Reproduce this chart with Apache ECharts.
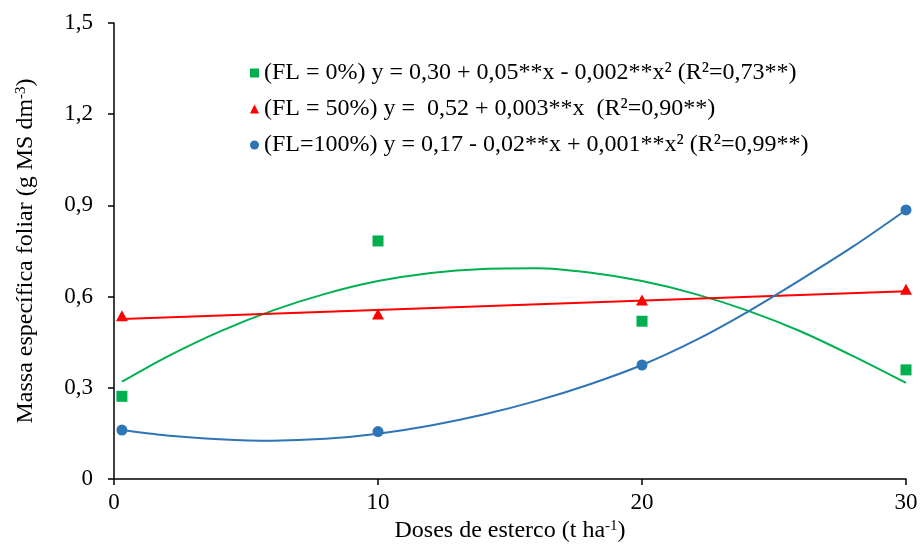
<!DOCTYPE html>
<html>
<head>
<meta charset="utf-8">
<script src="https://cdn.jsdelivr.net/npm/echarts@6/dist/echarts.min.js"></script>
<style>
  html, body { margin: 0; padding: 0; background: #fff; }
  #chart { width: 920px; height: 544px; }
</style>
</head>
<body>
<div id="chart"></div>
<script>
// observed points (x = dose, y = leaf specific mass)
const doses = [0.3, 10, 20, 30]
const fl0 = [0.272, 0.783, 0.519, 0.359]
const fl50 = [0.537, 0.543, 0.589, 0.624]
const fl100 = [0.161, 0.156, 0.375, 0.885]

// trend lines
const curveX = [0.3, 2, 4, 6, 8, 10, 12, 14, 16, 18, 20, 22, 24, 26, 28, 30]
const fit0 = [0.32, 0.402, 0.485, 0.554, 0.609, 0.651, 0.678, 0.691, 0.693, 0.679, 0.651, 0.609, 0.554, 0.486, 0.404, 0.316]
const fit100 = [0.161, 0.143, 0.131, 0.126, 0.132, 0.149, 0.176, 0.212, 0.257, 0.311, 0.375, 0.455, 0.55, 0.655, 0.765, 0.885]
const lineX = [0.3, 30]
const fit50 = [0.526, 0.618]

const names = [
  '(FL = 0%) y = 0,30 + 0,05**x - 0,002**x² (R²=0,73**)',
  '(FL = 50%) y =  0,52 + 0,003**x  (R²=0,90**)',
  '(FL=100%) y = 0,17 - 0,02**x + 0,001**x² (R²=0,99**)'
]
const colors = ['#00B050', '#FF0000', '#2E75B6']

const pair = (xs, ys) => xs.map((x, i) => [x, ys[i]])
const font = 'Liberation Serif'

const chart = echarts.init(document.getElementById('chart'))

chart.setOption({
  animation: false,
  textStyle: { fontFamily: font, color: '#000' },
  grid: { left: 114, right: 14, top: 23, bottom: 65, outerBoundsMode: 'none' },
  legend: {
    orient: 'vertical',
    left: 245,
    top: 56,
    itemGap: 12,
    itemWidth: 9,
    itemHeight: 9,
    textStyle: { fontFamily: font, fontSize: 24, color: '#000' },
    data: [
      { name: names[0], icon: 'rect' },
      { name: names[1], icon: 'triangle' },
      { name: names[2], icon: 'circle' }
    ]
  },
  xAxis: {
    type: 'value',
    min: 0,
    max: 30,
    interval: 10,
    name: '{a|Doses de esterco (t ha}{s|-1}{a|)}',
    nameLocation: 'middle',
    nameGap: 37,
    nameTextStyle: {
      rich: {
        a: { fontFamily: font, fontSize: 24, color: '#000' },
        s: { fontFamily: font, fontSize: 15, color: '#000', verticalAlign: 'top' }
      }
    },
    axisLine: { lineStyle: { color: '#000', width: 1.5 } },
    axisTick: { show: true, length: 6, lineStyle: { color: '#000', width: 1.5 } },
    axisLabel: { fontFamily: font, fontSize: 23, color: '#000', margin: 12 },
    splitLine: { show: false }
  },
  yAxis: {
    type: 'value',
    min: 0,
    max: 1.5,
    interval: 0.3,
    name: '{a|Massa específica foliar (g MS dm}{s|-3}{a|)}',
    nameLocation: 'middle',
    nameGap: 76,
    nameTextStyle: {
      rich: {
        a: { fontFamily: font, fontSize: 24, color: '#000' },
        s: { fontFamily: font, fontSize: 15, color: '#000', verticalAlign: 'top' }
      }
    },
    axisLine: { show: true, lineStyle: { color: '#000', width: 1.5 } },
    axisTick: { show: true, length: 6, lineStyle: { color: '#000', width: 1.5 } },
    axisLabel: {
      fontFamily: font,
      fontSize: 23,
      color: '#000',
      margin: 21,
      formatter: function (v) {
        return v === 0 ? '0' : v.toFixed(1).replace('.', ',')
      }
    },
    splitLine: { show: false }
  },
  series: [
    {
      type: 'line',
      smooth: 0.3,
      showSymbol: false,
      silent: true,
      lineStyle: { color: colors[0], width: 2 },
      data: pair(curveX, fit0)
    },
    {
      type: 'line',
      showSymbol: false,
      silent: true,
      lineStyle: { color: colors[1], width: 2 },
      data: pair(lineX, fit50)
    },
    {
      type: 'line',
      smooth: 0.3,
      showSymbol: false,
      silent: true,
      lineStyle: { color: colors[2], width: 2 },
      data: pair(curveX, fit100)
    },
    {
      name: names[0],
      type: 'scatter',
      symbol: 'rect',
      symbolSize: 11,
      itemStyle: { color: colors[0], opacity: 1 },
      data: pair(doses, fl0)
    },
    {
      name: names[1],
      type: 'scatter',
      symbol: 'triangle',
      symbolSize: [12, 11],
      itemStyle: { color: colors[1], opacity: 1 },
      data: pair(doses, fl50)
    },
    {
      name: names[2],
      type: 'scatter',
      symbol: 'circle',
      symbolSize: 11,
      itemStyle: { color: colors[2], opacity: 1 },
      data: pair(doses, fl100)
    }
  ]
})
</script>
</body>
</html>
